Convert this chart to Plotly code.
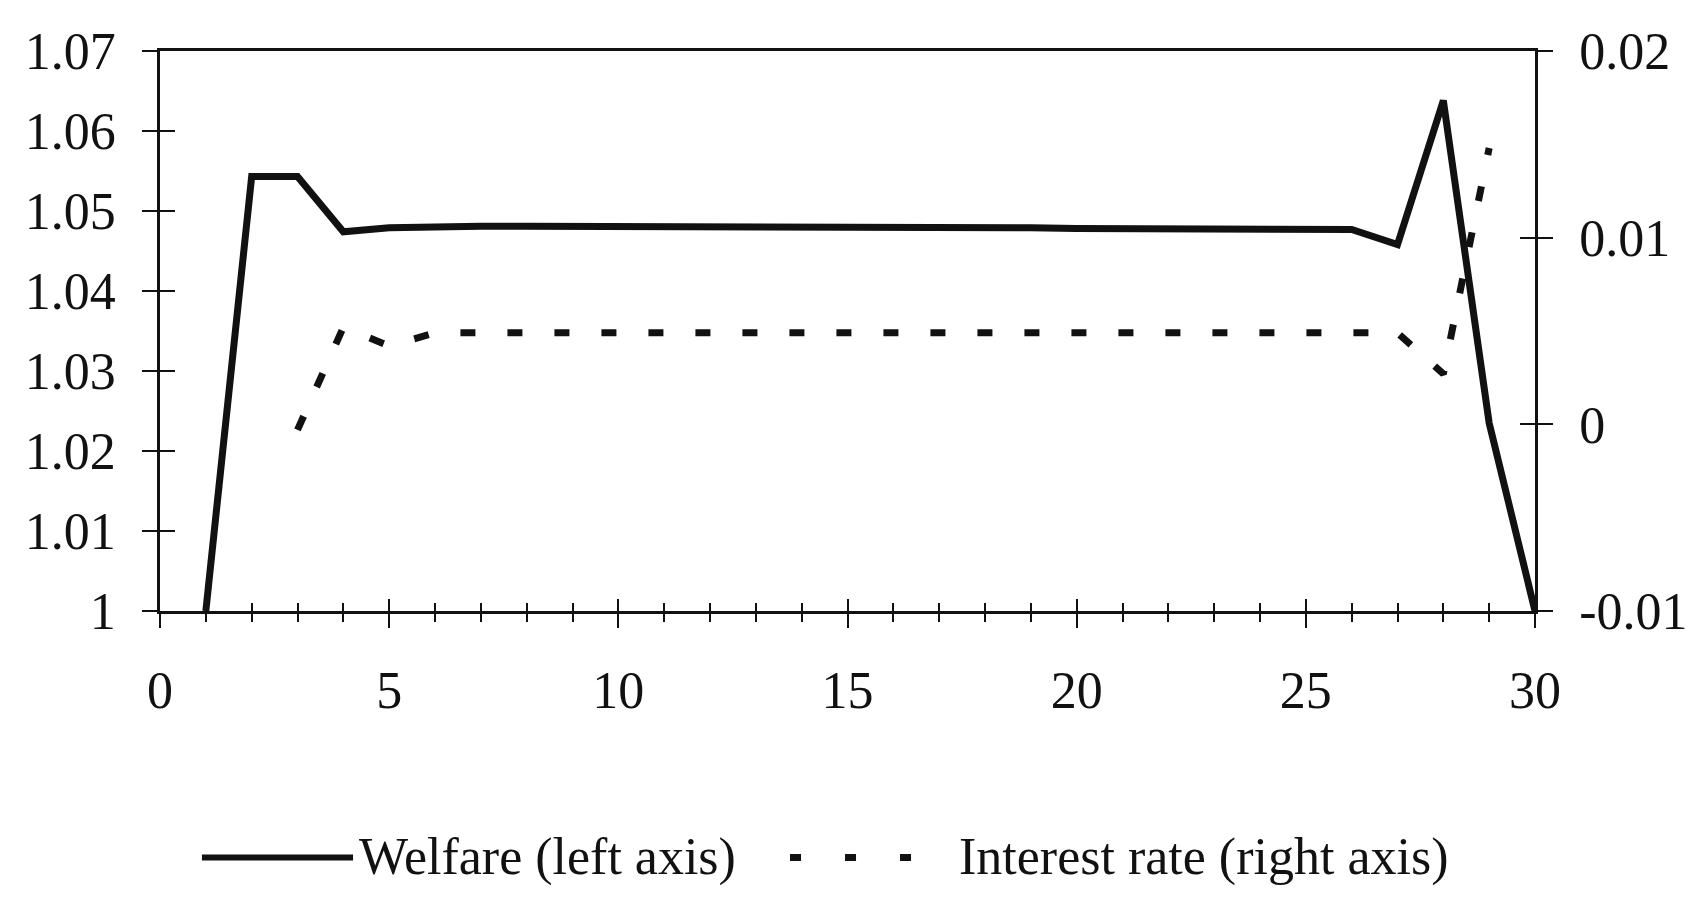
import plotly.graph_objects as go

# Periods on the horizontal axis
periods = list(range(1, 31))

# Welfare index (left axis)
welfare = [1.0, 1.0543, 1.0543, 1.0474, 1.0479, 1.0481, 1.0481, 1.0481, 1.0481, 1.0481,
           1.0480, 1.0480, 1.0480, 1.0480, 1.0480, 1.0479, 1.0479, 1.0479, 1.0479, 1.0478,
           1.0478, 1.0478, 1.0478, 1.0477, 1.0477, 1.0477, 1.0458, 1.0638, 1.0235, 1.0]

# Interest rate (right axis); not defined in the first two and the last period
interest = [None, None, -0.0003, 0.0052, 0.0042, 0.0049, 0.0049, 0.0049, 0.0049, 0.0049,
            0.0049, 0.0049, 0.0049, 0.0049, 0.0049, 0.0049, 0.0049, 0.0049, 0.0049, 0.0049,
            0.0049, 0.0049, 0.0049, 0.0049, 0.0049, 0.0049, 0.0049, 0.0027, 0.0148, None]

# Tick values and labels
x_tickvals = [0, 5, 10, 15, 20, 25, 30]
x_ticktext = ["0", "5", "10", "15", "20", "25", "30"]
left_tickvals = [1.0, 1.01, 1.02, 1.03, 1.04, 1.05, 1.06, 1.07]
left_ticktext = ["1", "1.01", "1.02", "1.03", "1.04", "1.05", "1.06", "1.07"]
right_tickvals = [-0.01, 0.0, 0.01, 0.02]
right_ticktext = ["-0.01", "0", "0.01", "0.02"]

series_names = ["Welfare (left axis)", "Interest rate (right axis)"]

INK = "#111111"
FONT = "Liberation Serif"
eps = 1e-9
left_range = [1 - eps, 1.07 + eps]
right_range = [-0.01 - eps, 0.02 + eps]

fig = go.Figure()
fig.add_trace(go.Scatter(
    x=periods, y=welfare, mode="lines", name=series_names[0],
    line=dict(color=INK, width=7), yaxis="y", showlegend=False,
))
fig.add_trace(go.Scatter(
    x=periods, y=interest, mode="lines", name=series_names[1],
    line=dict(color=INK, width=7, dash="15px,32px"), yaxis="y2",
    connectgaps=False, showlegend=False,
))
# Empty traces so the companion axes (inward tick marks) get drawn
for xa, ya in (("x2", "y"), ("x", "y3"), ("x", "y4")):
    fig.add_trace(go.Scatter(x=[None], y=[None], xaxis=xa, yaxis=ya, mode="lines",
                             showlegend=False, hoverinfo="skip"))

tick_font = dict(family=FONT, size=52, color=INK)
tick_style = dict(tickwidth=2, tickcolor=INK)

fig.update_layout(
    width=1693, height=897,
    margin=dict(l=160, r=158, t=51, b=286),
    paper_bgcolor="white", plot_bgcolor="white",
    font=dict(family=FONT, color=INK),
    xaxis=dict(
        range=[0, 30], tickmode="array", tickvals=x_tickvals, ticktext=x_ticktext,
        ticks="outside", ticklen=14, **tick_style,
        minor=dict(ticks="outside", ticklen=8, dtick=1, tick0=0, showgrid=False, **tick_style),
        showline=True, linewidth=2.5, linecolor=INK, mirror=True,
        showgrid=False, zeroline=False, tickfont=tick_font, ticklabelstandoff=18,
        automargin=False,
    ),
    xaxis2=dict(
        overlaying="x", anchor="y", side="bottom", range=[0, 30],
        tickmode="array", tickvals=x_tickvals, showticklabels=False,
        ticks="inside", ticklen=12, **tick_style,
        minor=dict(ticks="inside", ticklen=8, dtick=1, tick0=0, showgrid=False, **tick_style),
        showline=False, showgrid=False, zeroline=False, automargin=False,
    ),
    yaxis=dict(
        range=left_range, tickmode="array", tickvals=left_tickvals, ticktext=left_ticktext,
        ticks="outside", ticklen=15, **tick_style,
        showline=True, linewidth=2.5, linecolor=INK,
        showgrid=False, zeroline=False, tickfont=tick_font, ticklabelstandoff=16,
        automargin=False,
    ),
    yaxis2=dict(
        overlaying="y", side="right", anchor="x",
        range=right_range, tickmode="array", tickvals=right_tickvals, ticktext=right_ticktext,
        ticks="outside", ticklen=15, **tick_style,
        showline=True, linewidth=2.5, linecolor=INK,
        showgrid=False, zeroline=False, tickfont=tick_font, ticklabelstandoff=16,
        automargin=False,
    ),
    yaxis3=dict(
        overlaying="y", side="left", anchor="x", range=left_range,
        tickmode="array", tickvals=left_tickvals, showticklabels=False,
        ticks="inside", ticklen=15, **tick_style,
        showline=False, showgrid=False, zeroline=False, automargin=False,
    ),
    yaxis4=dict(
        overlaying="y", side="right", anchor="x", range=right_range,
        tickmode="array", tickvals=right_tickvals, showticklabels=False,
        ticks="inside", ticklen=15, **tick_style,
        showline=False, showgrid=False, zeroline=False, automargin=False,
    ),
)

# Legend drawn below the plot: long solid key, spaced dash key
legend_y = -0.44
legend_font = dict(family=FONT, size=52, color=INK)
fig.add_shape(type="line", xref="paper", yref="paper",
              x0=0.0305, x1=0.1404, y0=legend_y, y1=legend_y,
              line=dict(color=INK, width=6))
fig.add_shape(type="line", xref="paper", yref="paper",
              x0=0.4582, x1=0.5469, y0=legend_y, y1=legend_y,
              line=dict(color=INK, width=7, dash="11px,44px"))
fig.add_annotation(text=series_names[0], xref="paper", yref="paper",
                   x=0.1433, y=legend_y, xanchor="left", yanchor="middle",
                   showarrow=False, font=legend_font)
fig.add_annotation(text=series_names[1], xref="paper", yref="paper",
                   x=0.5796, y=legend_y, xanchor="left", yanchor="middle",
                   showarrow=False, font=legend_font)

fig.write_html("out.html")
